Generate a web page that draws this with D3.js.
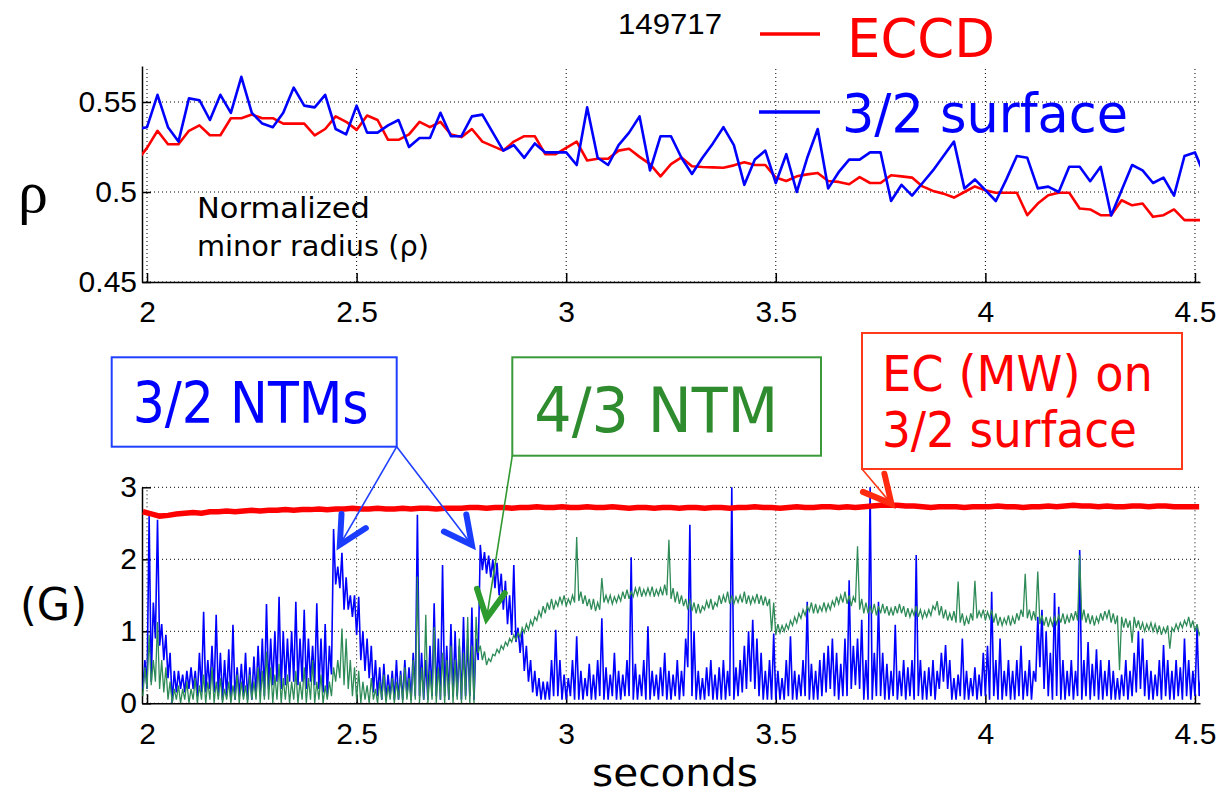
<!DOCTYPE html>
<html>
<head>
<meta charset="utf-8">
<script src="https://cdn.jsdelivr.net/npm/d3@7"></script>
<style>
  body { margin: 0; background: #fff; }
  svg { display: block; }
  .axis text { font-family: "Liberation Sans", Arial, sans-serif; fill: #000; }
  .axis path, .axis line { stroke: #000; stroke-width: 1.5; }
</style>
</head>
<body>
<svg id="chart" width="1229" height="797"></svg>
<script>
// ---- data ----
var xTicks = [2, 2.5, 3, 3.5, 4, 4.5];
var rhoTicks = [0.45, 0.5, 0.55];
var gTicks = [0, 1, 2, 3];

// top panel: normalized minor radius, one sample every 25 ms from 1.975 s
var rhoStart = 1.975, rhoStep = 0.025;
var rhoEccd = [
  0.517, 0.5245, 0.534, 0.5265, 0.5265, 0.534, 0.537, 0.5315, 0.5315, 0.541,
  0.541, 0.543, 0.541, 0.541, 0.538, 0.538, 0.538, 0.5315, 0.535, 0.542,
  0.539, 0.5345, 0.5425, 0.540, 0.529, 0.529, 0.532, 0.539, 0.536, 0.539,
  0.532, 0.5305, 0.535, 0.528, 0.5255, 0.523, 0.528, 0.531, 0.531, 0.521,
  0.521, 0.5245, 0.528, 0.5175, 0.5185, 0.5185, 0.523, 0.524, 0.5195, 0.5155,
  0.5087, 0.5155, 0.5192, 0.5143, 0.5139, 0.5137, 0.5135, 0.5148, 0.5165, 0.515,
  0.515, 0.508, 0.5061, 0.5087, 0.5098, 0.5106, 0.5061, 0.5056, 0.5043, 0.5083,
  0.505, 0.505, 0.5093, 0.5087, 0.508, 0.5031, 0.5006, 0.4991, 0.4969, 0.500,
  0.5031, 0.5009, 0.4996, 0.4996, 0.4996, 0.4871, 0.4936, 0.4982, 0.4996, 0.4996,
  0.4908, 0.4903, 0.4871, 0.4871, 0.4954, 0.4926, 0.4936, 0.4862, 0.4871, 0.4903,
  0.4844, 0.4844, 0.4844
];
var rhoSurface = [
  0.535, 0.536, 0.554, 0.536, 0.528, 0.552, 0.551, 0.540, 0.554, 0.544,
  0.564, 0.544, 0.538, 0.536, 0.544, 0.558, 0.548, 0.547, 0.554, 0.535,
  0.532, 0.548, 0.533, 0.533, 0.537, 0.540, 0.525, 0.530, 0.530, 0.544,
  0.531, 0.531, 0.542, 0.543, 0.533, 0.523, 0.526, 0.519, 0.527, 0.522,
  0.522, 0.522, 0.515, 0.547, 0.519, 0.515, 0.526, 0.533, 0.542, 0.512,
  0.531, 0.531, 0.519, 0.510, 0.519, 0.527, 0.536, 0.526, 0.504, 0.518,
  0.523, 0.505, 0.521, 0.500, 0.519, 0.535, 0.502, 0.511, 0.518, 0.518,
  0.522, 0.522, 0.495, 0.504, 0.498, 0.505, 0.512, 0.520, 0.528, 0.502,
  0.507, 0.501, 0.495, 0.507, 0.520, 0.519, 0.502, 0.503, 0.500, 0.514,
  0.514, 0.506, 0.514, 0.487, 0.501, 0.515, 0.512, 0.505, 0.508, 0.498,
  0.520, 0.522, 0.508
];

// bottom panel: mode amplitudes, min / max in 10 ms bins from 1.99 s
var binStart = 1.99, binStep = 0.01;
var ntm32Max = [0.6,
  2.6, 1.4, 2.55, 1.1, 0.95, 0.7, 0.45, 0.45, 0.4, 0.45,
  0.5, 0.45, 0.7, 1.27, 0.6, 0.8, 1.23, 0.7, 0.6, 0.75,
  1.09, 0.5, 0.55, 0.7, 0.5, 0.65, 0.8, 0.9, 1.38, 0.9,
  1.0, 1.48, 1.0, 0.9, 1.0, 1.41, 0.9, 1.3, 0.9, 0.8,
  1.39, 0.9, 1.1, 0.8, 2.42, 1.9, 2.09, 1.75, 1.5, 1.5,
  1.48, 1.0, 0.9, 0.8, 0.6, 0.5, 0.55, 0.4, 0.45, 0.6,
  0.45, 0.6, 0.5, 0.7, 2.62, 0.7, 0.6, 0.8, 1.39, 0.9,
  1.92, 0.8, 1.1, 1.0, 0.8, 1.2, 0.9, 1.33, 0.9, 2.2,
  2.1, 2.05, 2.0, 1.95, 1.8, 1.7, 1.5, 1.92, 1.05, 1.0,
  0.8, 0.6, 0.45, 0.35, 0.3, 0.3, 0.6, 1.02, 0.6, 0.4,
  0.35, 0.6, 0.93, 0.45, 0.35, 0.55, 0.4, 0.6, 1.18, 0.5,
  0.4, 0.7, 0.45, 0.4, 0.6, 2.03, 0.55, 0.4, 0.6, 1.07,
  0.45, 0.4, 0.5, 0.7, 0.45, 0.4, 0.6, 0.45, 0.9, 2.48,
  1.0, 0.45, 0.35, 0.5, 0.6, 0.4, 0.5, 0.6, 0.45, 3.0,
  0.5, 0.6, 0.8, 1.0, 1.16, 0.9, 0.7, 0.45, 0.6, 0.97,
  0.45, 0.35, 0.6, 0.93, 0.45, 0.4, 0.6, 1.41, 0.55, 0.45,
  0.6, 0.7, 0.8, 0.9, 0.7, 0.55, 0.9, 1.71, 0.8, 0.9,
  1.16, 0.6, 3.0, 0.7, 1.41, 0.7, 0.55, 0.45, 1.09, 0.45,
  0.6, 0.5, 0.6, 2.06, 0.6, 0.45, 0.5, 0.6, 0.45, 0.7,
  0.81, 0.6, 0.35, 0.4, 0.9, 0.45, 0.35, 0.5, 0.4, 0.7,
  0.8, 1.55, 0.6, 0.9, 0.45, 0.6, 0.45, 0.6, 0.8, 0.45,
  0.6, 0.45, 1.2, 1.3, 1.0, 0.7, 1.53, 1.34, 0.6, 0.45,
  0.6, 0.45, 2.13, 0.6, 0.85, 0.55, 0.75, 0.6, 0.45, 0.6,
  0.45, 0.35, 0.4, 0.6, 0.45, 0.7, 1.0, 0.9, 0.6, 0.45,
  0.4, 0.6, 0.81, 0.6, 0.45, 0.6, 0.5, 0.9, 0.6, 0.45,
  1.06, 0.4
];
var ntm32Min = [0.2,
  0.2, 0.3, 0.9, 0.8, 0.6, 0.35, 0.0, 0.15, 0.2, 0.15,
  0.2, 0.2, 0.1, 0.15, 0.15, 0.2, 0.15, 0.1, 0.05, 0.1,
  0.05, 0.05, 0.1, 0.1, 0.05, 0.05, 0.1, 0.15, 0.1, 0.2,
  0.25, 0.3, 0.2, 0.25, 0.3, 0.3, 0.25, 0.3, 0.2, 0.3,
  0.25, 0.2, 0.15, 0.1, 0.4, 1.65, 1.6, 1.3, 1.3, 1.2,
  0.95, 0.6, 0.45, 0.35, 0.15, 0.1, 0.05, 0.05, 0.1, 0.05,
  0.05, 0.05, 0.1, 0.05, 0.1, 0.1, 0.05, 0.05, 0.1, 0.1,
  0.05, 0.1, 0.05, 0.1, 0.1, 0.05, 0.1, 0.1, 0.05, 0.6,
  1.85, 1.8, 1.75, 1.6, 1.5, 1.3, 1.1, 0.95, 0.85, 0.7,
  0.45, 0.3, 0.15, 0.1, 0.05, 0.05, 0.05, 0.1, 0.1, 0.05,
  0.05, 0.1, 0.05, 0.05, 0.05, 0.1, 0.05, 0.05, 0.1, 0.05,
  0.05, 0.1, 0.05, 0.05, 0.1, 0.1, 0.05, 0.05, 0.1, 0.05,
  0.05, 0.1, 0.05, 0.1, 0.05, 0.05, 0.1, 0.05, 0.1, 0.5,
  0.1, 0.05, 0.05, 0.05, 0.1, 0.05, 0.05, 0.05, 0.05, 0.1,
  0.05, 0.1, 0.15, 0.2, 0.3, 0.2, 0.1, 0.05, 0.05, 0.05,
  0.05, 0.05, 0.05, 0.1, 0.05, 0.05, 0.1, 0.1, 0.05, 0.05,
  0.05, 0.1, 0.15, 0.2, 0.1, 0.05, 0.1, 0.1, 0.2, 0.25,
  0.2, 0.05, 0.05, 0.05, 0.1, 0.1, 0.05, 0.05, 0.1, 0.05,
  0.1, 0.05, 0.1, 0.05, 0.1, 0.05, 0.05, 0.1, 0.05, 0.2,
  0.3, 0.2, 0.05, 0.05, 0.1, 0.05, 0.05, 0.1, 0.05, 0.1,
  0.1, 0.05, 0.1, 0.05, 0.05, 0.1, 0.05, 0.05, 0.1, 0.05,
  0.1, 0.05, 0.3, 0.5, 0.2, 0.1, 0.05, 0.1, 0.05, 0.05,
  0.1, 0.05, 0.1, 0.05, 0.1, 0.05, 0.1, 0.05, 0.05, 0.1,
  0.05, 0.05, 0.05, 0.1, 0.05, 0.1, 0.15, 0.2, 0.1, 0.05,
  0.05, 0.1, 0.05, 0.1, 0.05, 0.05, 0.1, 0.05, 0.1, 0.05,
  0.1, 0.1
];
var ntm43Max = [0.5,
  0.95, 0.6, 1.13, 0.6, 0.5, 0.3, 0.2, 0.25, 0.2, 0.3,
  0.2, 0.35, 0.25, 0.4, 0.3, 0.5, 0.3, 0.35, 0.2, 0.3,
  0.25, 0.4, 0.3, 0.25, 0.4, 0.3, 0.5, 0.45, 0.72, 0.5,
  0.4, 0.55, 0.35, 0.4, 0.3, 0.45, 0.3, 0.5, 0.35, 0.6,
  0.3, 0.4, 0.25, 0.3, 0.5, 0.6, 1.04, 0.9, 0.6, 0.5,
  0.45, 0.3, 0.25, 0.35, 0.2, 0.3, 0.4, 0.25, 0.35, 0.3,
  0.4, 0.5, 0.35, 0.6, 1.76, 0.5, 1.23, 0.45, 1.06, 0.5,
  0.7, 0.6, 0.8, 0.6, 0.9, 0.7, 1.2, 0.8, 1.2, 0.8,
  0.72, 0.62, 0.68, 0.75, 0.8, 0.85, 0.9, 0.95, 0.98, 1.05,
  1.1, 1.15, 1.2, 1.28, 1.35, 1.4, 1.45, 1.42, 1.48, 1.5,
  1.45, 1.5, 2.31, 1.55, 1.5, 1.45, 1.45, 1.4, 1.74, 1.5,
  1.5, 1.48, 1.5, 1.55, 1.58, 1.55, 1.6, 1.62, 1.58, 1.6,
  1.62, 1.58, 1.6, 1.65, 2.27, 1.6, 1.55, 1.5, 1.45, 1.45,
  1.4, 1.38, 1.35, 1.42, 1.45, 1.4, 1.5, 1.5, 1.55, 1.5,
  1.48, 1.5, 1.55, 1.5, 1.48, 1.52, 1.5, 1.48, 1.45, 1.4,
  1.1, 1.08, 1.1, 1.15, 1.2, 1.25, 1.3, 1.35, 1.4, 1.38,
  1.35, 1.4, 1.38, 1.42, 1.48, 1.5, 1.55, 1.5, 1.48, 2.18,
  1.45, 1.4, 1.35, 1.38, 1.35, 1.38, 1.35, 1.32, 1.35, 1.38,
  1.35, 1.32, 1.3, 1.35, 1.3, 1.28, 1.3, 1.35, 1.42, 1.35,
  1.3, 1.25, 1.28, 1.69, 1.25, 1.2, 1.25, 1.7, 1.28, 1.3,
  1.27, 1.3, 1.25, 1.2, 1.18, 1.22, 1.2, 1.25, 1.3, 1.8,
  1.3, 1.28, 1.83, 1.22, 1.2, 1.18, 1.2, 1.22, 1.25, 1.22,
  1.25, 1.28, 2.06, 1.3, 1.25, 1.22, 1.2, 1.25, 1.28, 1.3,
  1.25, 1.22, 1.2, 1.18, 1.15, 1.2, 1.15, 1.12, 1.1, 1.12,
  1.1, 1.08, 1.05, 1.08, 1.05, 1.1, 1.12, 1.15, 1.2, 1.15,
  1.1, 1.02
];
var ntm43Min = [0.1,
  0.2, 0.25, 0.3, 0.2, 0.15, 0.05, 0.0, 0.05, 0.0, 0.05,
  0.0, 0.05, 0.0, 0.05, 0.0, 0.05, 0.0, 0.05, 0.0, 0.05,
  0.0, 0.05, 0.0, 0.05, 0.0, 0.05, 0.05, 0.0, 0.05, 0.05,
  0.0, 0.05, 0.0, 0.05, 0.0, 0.05, 0.0, 0.05, 0.0, 0.05,
  0.0, 0.05, 0.0, 0.05, 0.1, 0.3, 0.35, 0.25, 0.2, 0.1,
  0.05, 0.0, 0.05, 0.0, 0.05, 0.0, 0.05, 0.0, 0.05, 0.0,
  0.05, 0.0, 0.05, 0.0, 0.05, 0.0, 0.05, 0.0, 0.05, 0.0,
  0.05, 0.0, 0.05, 0.0, 0.05, 0.0, 0.05, 0.0, 0.0, 0.7,
  0.6, 0.53, 0.58, 0.66, 0.7, 0.75, 0.8, 0.85, 0.88, 0.92,
  0.98, 1.02, 1.08, 1.15, 1.2, 1.25, 1.3, 1.3, 1.35, 1.38,
  1.35, 1.38, 1.4, 1.42, 1.38, 1.35, 1.3, 1.28, 1.3, 1.4,
  1.4, 1.38, 1.4, 1.42, 1.45, 1.45, 1.48, 1.5, 1.48, 1.5,
  1.5, 1.48, 1.5, 1.5, 1.5, 1.45, 1.4, 1.38, 1.35, 1.3,
  1.28, 1.25, 1.25, 1.3, 1.32, 1.3, 1.35, 1.38, 1.4, 1.38,
  1.38, 1.4, 1.4, 1.38, 1.38, 1.4, 1.38, 1.36, 1.35, 1.0,
  0.95, 0.98, 1.0, 1.03, 1.08, 1.12, 1.18, 1.22, 1.28, 1.25,
  1.25, 1.28, 1.28, 1.3, 1.35, 1.38, 1.4, 1.38, 1.35, 1.4,
  1.3, 1.25, 1.25, 1.25, 1.22, 1.25, 1.25, 1.22, 1.22, 1.25,
  1.25, 1.2, 1.2, 1.22, 1.2, 1.18, 1.2, 1.22, 1.3, 1.22,
  1.18, 1.15, 1.15, 1.12, 1.12, 1.08, 1.1, 1.15, 1.18, 1.2,
  1.15, 1.18, 1.12, 1.08, 1.08, 1.1, 1.08, 1.1, 1.15, 1.2,
  1.18, 1.15, 1.15, 1.1, 1.08, 1.06, 1.08, 1.1, 1.12, 1.1,
  1.12, 1.15, 1.15, 1.15, 1.12, 1.1, 1.08, 1.12, 1.15, 1.18,
  1.12, 1.1, 0.46, 1.05, 1.05, 0.84, 1.05, 1.02, 1.0, 1.02,
  1.0, 0.98, 0.95, 0.98, 0.76, 1.0, 1.02, 1.05, 1.08, 1.05,
  1.0, 0.95
];

// EC power, one sample every 20 ms from 1.99 s
var ecStart = 1.99, ecStep = 0.02;
var ecPower = [
  2.66, 2.63, 2.60, 2.61, 2.63, 2.64, 2.65, 2.64, 2.66, 2.66,
  2.67, 2.66, 2.67, 2.68, 2.67, 2.68, 2.68, 2.69, 2.68, 2.69,
  2.69, 2.70, 2.69, 2.70, 2.70, 2.71, 2.70, 2.70, 2.71, 2.70,
  2.70, 2.71, 2.70, 2.71, 2.71, 2.70, 2.71, 2.71, 2.71, 2.72,
  2.72, 2.71, 2.72, 2.72, 2.71, 2.72, 2.72, 2.73, 2.72, 2.72,
  2.73, 2.72, 2.72, 2.73, 2.72, 2.72, 2.73, 2.72, 2.71, 2.72,
  2.72, 2.71, 2.72, 2.72, 2.71, 2.72, 2.72, 2.71, 2.72, 2.72,
  2.71, 2.72, 2.72, 2.73, 2.72, 2.72, 2.71, 2.72, 2.73, 2.72,
  2.72, 2.73, 2.73, 2.72, 2.73, 2.72, 2.73, 2.74, 2.75, 2.75,
  2.75, 2.74, 2.74, 2.73, 2.72, 2.73, 2.73, 2.73, 2.72, 2.73,
  2.73, 2.73, 2.74, 2.73, 2.73, 2.72, 2.73, 2.73, 2.74, 2.73,
  2.74, 2.75, 2.74, 2.74, 2.73, 2.74, 2.73, 2.73, 2.74, 2.74,
  2.73, 2.74, 2.74, 2.73, 2.73, 2.73, 2.73
];

// ---- layout ----
var svg = d3.select("#chart");
var gothic = '"DejaVu Sans", sans-serif';

var x = d3.scaleLinear().domain([1.988, 4.512]).range([142, 1200]);
var yRho = d3.scaleLinear().domain([0.45, 0.57]).range([282, 66]);
var yG = d3.scaleLinear().domain([0, 3]).range([703.3, 487.3]);

function series(start, step, vals) {
  return vals.map(function(v, i) { return [start + i * step, v]; });
}

// min/max bins drawn as one zig-zag trace
function envelope(lo, hi) {
  var pts = [];
  lo.forEach(function(v, i) {
    var t = binStart + i * binStep;
    pts.push([t, v]);
    pts.push([t + binStep / 2, hi[i]]);
  });
  return pts;
}

var defs = svg.append("defs");
function addClip(id, y) {
  defs.append("clipPath").attr("id", id).append("rect")
    .attr("x", x.range()[0]).attr("y", y.range()[1] - 1)
    .attr("width", x.range()[1] - x.range()[0])
    .attr("height", y.range()[0] - y.range()[1] + 1);
}
addClip("clipTop", yRho);
addClip("clipBot", yG);

function drawPanel(y, yTicks) {
  var g = svg.append("g");

  // dotted grid
  g.selectAll(".vgrid").data(xTicks).enter().append("line")
    .attr("x1", function(d) { return x(d); })
    .attr("x2", function(d) { return x(d); })
    .attr("y1", y.range()[0]).attr("y2", y.range()[1])
    .attr("stroke", "#000").attr("stroke-width", 1)
    .attr("stroke-dasharray", "1,3");
  g.selectAll(".hgrid").data(yTicks).enter().append("line")
    .attr("x1", x.range()[0]).attr("x2", x.range()[1])
    .attr("y1", function(d) { return y(d); })
    .attr("y2", function(d) { return y(d); })
    .attr("stroke", "#000").attr("stroke-width", 1)
    .attr("stroke-dasharray", "1,3");

  var xa = g.append("g").attr("class", "axis")
    .attr("transform", "translate(0," + y.range()[0] + ")")
    .call(d3.axisBottom(x).tickValues(xTicks).tickFormat(function(d) { return String(d); })
      .tickSize(-9).tickSizeOuter(0).tickPadding(19));
  xa.selectAll("text").style("font-size", "30px");

  var ya = g.append("g").attr("class", "axis")
    .attr("transform", "translate(" + x.range()[0] + ",0)")
    .call(d3.axisLeft(y).tickValues(yTicks).tickFormat(function(d) { return String(d); })
      .tickSize(-9).tickSizeOuter(0).tickPadding(5));
  ya.selectAll("text").style("font-size", "30px");
  return g;
}

drawPanel(yRho, rhoTicks);
drawPanel(yG, gTicks);

// top panel lines
var lineRho = d3.line().x(function(d) { return x(d[0]); }).y(function(d) { return yRho(d[1]); });
var topG = svg.append("g").attr("clip-path", "url(#clipTop)");
topG.append("path").datum(series(rhoStart, rhoStep, rhoEccd))
  .attr("d", lineRho).attr("fill", "none").attr("stroke", "#ff0000")
  .attr("stroke-width", 2.6).attr("stroke-linejoin", "round");
topG.append("path").datum(series(rhoStart, rhoStep, rhoSurface))
  .attr("d", lineRho).attr("fill", "none").attr("stroke", "#0000ff")
  .attr("stroke-width", 2.6).attr("stroke-linejoin", "round");

// bottom panel lines
var lineG = d3.line().x(function(d) { return x(d[0]); }).y(function(d) { return yG(d[1]); });
var botG = svg.append("g").attr("clip-path", "url(#clipBot)");
botG.append("path").datum(envelope(ntm32Min, ntm32Max))
  .attr("d", lineG).attr("fill", "none").attr("stroke", "#0000ff").attr("stroke-width", 1.6);
botG.append("path").datum(envelope(ntm43Min, ntm43Max))
  .attr("d", lineG).attr("fill", "none").attr("stroke", "#2e8b57").attr("stroke-width", 1.3);
botG.append("path").datum(series(ecStart, ecStep, ecPower))
  .attr("d", lineG).attr("fill", "none").attr("stroke", "#ff0000").attr("stroke-width", 5.5);

// ---- texts ----
function label(txt, px, py, size, color, len, family) {
  var t = svg.append("text").attr("x", px).attr("y", py)
    .attr("font-family", family || gothic).attr("font-size", size)
    .attr("fill", color).text(txt);
  if (len) t.attr("textLength", len).attr("lengthAdjust", "spacingAndGlyphs");
  return t;
}

label("149717", 618, 34, 30, "#000", 104, '"Liberation Sans", Arial, sans-serif');
label("\u03c1", 18, 212, 60, "#000", null, '"Liberation Serif", "Times New Roman", serif');
label("Normalized", 197, 218, 29, "#000", 173);
label("minor radius (\u03c1)", 197, 256, 29, "#000", 232);
label("(G)", 20, 620, 44, "#000", 67);
label("seconds", 592, 786, 37, "#000", 166);

// legend
svg.append("line").attr("x1", 760).attr("x2", 820).attr("y1", 34).attr("y2", 34)
  .attr("stroke", "#ff0000").attr("stroke-width", 3.5);
svg.append("line").attr("x1", 759).attr("x2", 820).attr("y1", 112).attr("y2", 112)
  .attr("stroke", "#0000ff").attr("stroke-width", 3.5);
label("ECCD", 847, 57, 53, "#ff0000", 148);
label("3/2 surface", 842, 132, 53, "#0000ff", 286);

// ---- callouts ----
function box(x0, y0, x1, y1, color) {
  svg.append("rect").attr("x", x0).attr("y", y0)
    .attr("width", x1 - x0).attr("height", y1 - y0)
    .attr("fill", "#fff").attr("stroke", color).attr("stroke-width", 2);
}
function pointer(from, tip, color, lineColor) {
  svg.append("line").attr("x1", from[0]).attr("y1", from[1])
    .attr("x2", tip[0]).attr("y2", tip[1])
    .attr("stroke", lineColor || color).attr("stroke-width", 1.6);
  var ang = Math.atan2(from[1] - tip[1], from[0] - tip[0]);
  var a1 = ang - 27 * Math.PI / 180, a2 = ang + 27 * Math.PI / 180;
  svg.append("path")
    .attr("d", "M" + (tip[0] + 31 * Math.cos(a1)) + "," + (tip[1] + 31 * Math.sin(a1)) +
      "L" + tip[0] + "," + tip[1] +
      "L" + (tip[0] + 31 * Math.cos(a2)) + "," + (tip[1] + 31 * Math.sin(a2)))
    .attr("fill", "none").attr("stroke", color).attr("stroke-width", 6)
    .attr("stroke-linecap", "round").attr("stroke-linejoin", "miter");
}

box(111.7, 357.3, 396.7, 446.7, "#1f3fff");
label("3/2 NTMs", 132.7, 423, 57, "#0000ff", 236);
pointer([396.7, 446.7], [x(2.46), yG(2.2)], "#1a3cff", "#1f3fff");
pointer([396.7, 446.7], [x(2.775), yG(2.2)], "#1a3cff", "#1f3fff");

box(512.3, 357.3, 821, 455.7, "#3a9a3a");
label("4/3 NTM", 534.3, 431.7, 63, "#2e8b2e", 244);
pointer([512.3, 455.7], [x(2.81), yG(1.18)], "#2e9b2e", "#339933");

box(862, 333, 1182, 469, "#ff3a1a");
label("EC (MW) on", 882, 391, 49, "#ff0000", 271);
label("3/2 surface", 882, 447, 49, "#ff0000", 255);
pointer([862, 469], [x(3.776), yG(2.77)], "#ff2a10", "#ff3a1a");
</script>
</body>
</html>
